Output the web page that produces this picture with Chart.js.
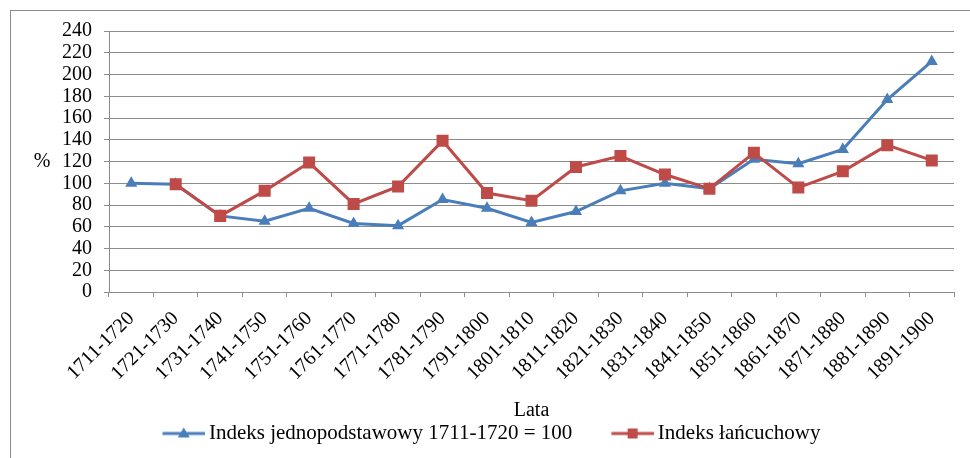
<!DOCTYPE html>
<html>
<head>
<meta charset="utf-8">
<script src="https://cdn.jsdelivr.net/npm/chart.js@4.4.0/dist/chart.umd.min.js"></script>
<style>
  html, body { margin: 0; padding: 0; background: #fff; }
  #wrap { width: 970px; height: 458px; position: relative; }
</style>
</head>
<body>
<div id="wrap"><canvas id="c" width="970" height="458"></canvas></div>
<script>
const categories = ["1711-1720","1721-1730","1731-1740","1741-1750","1751-1760","1761-1770","1771-1780","1781-1790","1791-1800","1801-1810","1811-1820","1821-1830","1831-1840","1841-1850","1851-1860","1861-1870","1871-1880","1881-1890","1891-1900"];
const indeksJednopodstawowy = [100, 99, 70, 65, 77, 63, 61, 85, 77, 64, 74, 93, 100, 95, 122, 118, 131, 177, 212];
const indeksLancuchowy = [null, 99, 70, 93, 119, 81, 97, 139, 91, 84, 115, 125, 108, 95, 128, 96, 111, 135, 121];
const seriesNames = ["Indeks jednopodstawowy 1711-1720 = 100", "Indeks łańcuchowy"];
const yTickMin = 0, yTickMax = 240, yTickStep = 20;
const xTitle = "Lata";
const yTitle = "%";

const BLUE = '#4a7ebb';
const RED = '#be4b48';
const GRAY = '#8c8c8c';
const FONT = "'Liberation Serif', 'Times New Roman', serif";

// legend swatch: line with marker
const BOXW = 75, BLANK = 39, EXTRA = 6.5;
function makeSwatch(color, style) {
  const cv = document.createElement('canvas');
  const w = BOXW + 2 * EXTRA, h = 16;
  cv.width = w; cv.height = h;
  const g = cv.getContext('2d');
  const x0 = EXTRA + BLANK, x1 = w;
  g.strokeStyle = color; g.lineWidth = 3;
  g.beginPath(); g.moveTo(x0, h / 2); g.lineTo(x1, h / 2); g.stroke();
  g.fillStyle = color;
  const cx = (x0 + x1) / 2, cy = h / 2;
  if (style === 'triangle') {
    g.beginPath();
    g.moveTo(cx, cy - 6); g.lineTo(cx + 6, cy + 4); g.lineTo(cx - 6, cy + 4); g.closePath(); g.fill();
  } else {
    g.fillRect(cx - 5, cy - 5, 10, 10);
  }
  return cv;
}
const swatches = [makeSwatch(BLUE, 'triangle'), makeSwatch(RED, 'rect')];

const frame = {
  id: 'frame',
  afterLayout(chart) {
    if (chart.legend) { chart.legend.left -= 5; chart.legend.right -= 5; }
  },
  beforeDraw(chart) {
    const ctx = chart.ctx;
    ctx.save();
    ctx.fillStyle = '#fff';
    ctx.fillRect(0, 0, chart.width, chart.height);
    ctx.strokeStyle = GRAY; ctx.lineWidth = 1;
    ctx.strokeRect(10.5, 10.5, 1200, 1200);
    ctx.restore();
  },
  afterDraw(chart) {
    const ctx = chart.ctx;
    ctx.save();
    ctx.fillStyle = '#000';
    ctx.font = "20px " + FONT;
    ctx.textAlign = 'center'; ctx.textBaseline = 'middle';
    ctx.fillText(yTitle, 42, 162);
    ctx.restore();
  }
};

new Chart(document.getElementById('c'), {
  type: 'line',
  data: {
    labels: categories,
    datasets: [
      { label: seriesNames[0], data: indeksJednopodstawowy, borderColor: BLUE, backgroundColor: BLUE,
        borderWidth: 3, pointStyle: 'triangle', pointRadius: 7, pointBorderWidth: 0, tension: 0, order: 2 },
      { label: seriesNames[1], data: indeksLancuchowy, borderColor: RED, backgroundColor: RED,
        borderWidth: 3, pointStyle: 'rect', pointRadius: 8.5, pointBorderWidth: 0, tension: 0, order: 1 }
    ]
  },
  options: {
    responsive: false,
    animation: false,
    devicePixelRatio: 1,
    layout: { padding: { top: 31, left: 0, right: 16, bottom: 4 } },
    plugins: {
      tooltip: { enabled: false },
      legend: {
        position: 'bottom',
        labels: {
          usePointStyle: true,
          pointStyleWidth: BOXW,
          boxHeight: 16,
          padding: 0,
          color: '#000',
          font: { family: FONT, size: 21 },
          generateLabels(chart) {
            return chart.data.datasets.map((ds, i) => ({
              text: ds.label, pointStyle: swatches[i], fillStyle: ds.borderColor,
              strokeStyle: ds.borderColor, lineWidth: 0, datasetIndex: i, hidden: false
            }));
          }
        }
      }
    },
    scales: {
      x: {
        offset: true,
        grid: { display: true, drawOnChartArea: false, drawTicks: true, tickLength: 5, offset: true, color: GRAY },
        border: { display: true, color: GRAY, width: 1 },
        ticks: { minRotation: 45, maxRotation: 45, autoSkip: false, color: '#000', padding: 10,
                 font: { family: FONT, size: 20 } },
        title: { display: true, text: xTitle, color: '#000', font: { family: FONT, size: 20 }, padding: { top: 0, bottom: 0 } },
        afterFit(scale) { scale.height = 131; }
      },
      y: {
        min: yTickMin, max: yTickMax,
        grid: { color: GRAY, tickLength: 5, lineWidth: 1 },
        border: { display: true, color: GRAY, width: 1 },
        ticks: { stepSize: yTickStep, autoSkip: false, color: '#000', padding: 12, font: { family: FONT, size: 20 } },
        afterFit(scale) { scale.width = 109; }
      }
    }
  },
  plugins: [frame]
});
</script>
</body>
</html>
